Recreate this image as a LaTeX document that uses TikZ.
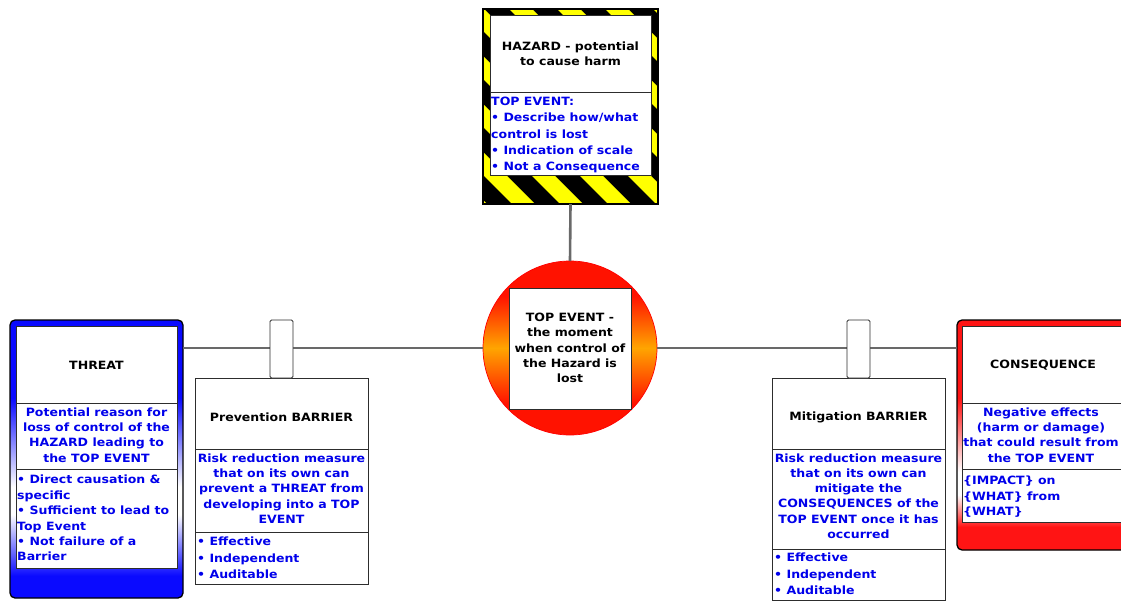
\documentclass[tikz,border=0pt]{standalone}
\usepackage{fontspec}
\setmainfont{DejaVu Sans}[FakeStretch=1.1]
\usetikzlibrary{calc}

\definecolor{tblue}{RGB}{0,0,235}
\definecolor{fillblue}{RGB}{10,10,255}
\definecolor{fillred}{RGB}{255,20,20}
\definecolor{discred}{RGB}{255,18,0}
\definecolor{discorange}{RGB}{255,165,0}
\definecolor{hzyellow}{RGB}{255,255,0}
\definecolor{lineg}{RGB}{105,105,105}
\definecolor{edgeg}{RGB}{45,45,45}

% vertical fades for the two side panels and the central disc
\pgfdeclareverticalshading{threatfade}{100bp}{color(0bp)=(fillblue); color(29bp)=(fillblue); color(40bp)=(white); color(45bp)=(white); color(61bp)=(fillblue); color(100bp)=(fillblue)}
\pgfdeclareverticalshading{consfade}{100bp}{color(0bp)=(fillred); color(30bp)=(fillred); color(37bp)=(white); color(42bp)=(white); color(58bp)=(fillred); color(100bp)=(fillred)}
\pgfdeclareverticalshading{discfade}{100bp}{color(0bp)=(discred); color(34bp)=(discred); color(50bp)=(discorange); color(65bp)=(discred); color(100bp)=(discred)}

\newcommand\boxfont{\bfseries\fontsize{11.4}{15.3}\selectfont}

\tikzset{
  conn/.style={draw=lineg, line width=2.6pt},
  panel/.style={draw=edgeg, line width=0.9pt, fill=white, inner sep=0pt, outer sep=0pt, anchor=north west},
  outerpanel/.style={draw=black, line width=1.3pt, rounded corners=5pt, inner sep=0pt, outer sep=0pt, anchor=north west},
  tabbox/.style={draw=edgeg, line width=0.9pt, fill=white, rounded corners=1.5pt, inner sep=0pt, outer sep=0pt, anchor=north west, minimum width=23pt, minimum height=58pt},
  divider/.style={draw=edgeg, line width=0.9pt},
  head/.style={font=\boxfont, text=black, align=center, inner sep=0pt},
  desc/.style={font=\boxfont, text=tblue, align=center, inner sep=0pt},
  blist/.style={font=\boxfont, text=tblue, align=left, inner sep=0pt, anchor=north west},
}

\begin{document}
\begin{tikzpicture}[x=1pt, y=-1pt]
\useasboundingbox (0,0) rectangle (1121,602);

% ---------- hazard sign with warning stripes ----------
\node[anchor=north west, minimum width=175pt, minimum height=195pt, inner sep=0pt, outer sep=0pt] (hazard) at (483,9) {};
\begin{scope}
  \clip (483,9) rectangle (658,204);
  \fill[black] (483,9) rectangle (658,204);
  \foreach \k in {-2,...,8} {
    \pgfmathsetmacro{\c}{308+48*\k}
    \fill[hzyellow] (\c,0) -- (\c+23,0) -- (\c+233,210) -- (\c+210,210) -- cycle;
  }
\end{scope}
\draw[black, line width=1.3pt] (hazard.north west) rectangle (hazard.south east);
\node[panel, minimum width=161pt, minimum height=160pt] (hzin) at (490,15) {};
\draw[divider] (hzin.west |- 0,92) -- (hzin.east |- 0,92);
\node[head] (hztitle) at (570.5,54) {HAZARD - potential\\to cause harm};
\node[blist, font=\bfseries\fontsize{11.4}{16.2}\selectfont] (hzlist) at (491,97) {TOP EVENT:\\• Describe how/what\\control is lost\\• Indication of scale\\• Not a Consequence};

% ---------- top event disc ----------
\node[circle, draw=red, line width=0.7pt, shading=discfade, minimum size=174pt, inner sep=0pt, outer sep=0pt] (top) at (570,348) {};
\node[panel, minimum width=122pt, minimum height=121pt] (topin) at (509,288) {};
\node[head] (toptext) at (570,348) {TOP EVENT -\\the moment\\when control of\\the Hazard is\\lost};

% ---------- threat ----------
\node[outerpanel, shading=threatfade, minimum width=173pt, minimum height=278pt] (threat) at (10,320) {};
\node[panel, minimum width=161pt, minimum height=242pt] (thin) at (16,326) {};
\draw[divider] (thin.west |- 0,403) -- (thin.east |- 0,403);
\draw[divider] (thin.west |- 0,469) -- (thin.east |- 0,469);
\node[head] (thtitle) at (96.5,365) {THREAT};
\node[desc] (thdesc) at (96.5,435) {Potential reason for\\loss of control of the\\HAZARD leading to\\the TOP EVENT};
\node[blist, font=\bfseries\fontsize{11.4}{15.4}\selectfont] (thlist) at (17,475) {• Direct causation \&\\specific\\• Sufficient to lead to\\Top Event\\• Not failure of a\\Barrier};

% ---------- consequence ----------
\node[outerpanel, shading=consfade, minimum width=173pt, minimum height=230pt] (cons) at (957,320) {};
\node[panel, minimum width=162pt, minimum height=196pt] (coin) at (962,326) {};
\draw[divider] (coin.west |- 0,403) -- (coin.east |- 0,403);
\draw[divider] (coin.west |- 0,469) -- (coin.east |- 0,469);
\node[head] (cotitle) at (1043,365) {CONSEQUENCE};
\node[desc] (codesc) at (1041,435) {Negative effects\\(harm or damage)\\that could result from\\the TOP EVENT};
\node[blist, font=\bfseries\fontsize{11.4}{15.5}\selectfont] (colist) at (963,476) {\{IMPACT\} on\\\{WHAT\} from\\\{WHAT\}};

% ---------- barrier boxes ----------
\node[panel, minimum width=173pt, minimum height=206pt] (prev) at (195,378) {};
\draw[divider] (prev.west |- 0,449) -- (prev.east |- 0,449);
\draw[divider] (prev.west |- 0,532) -- (prev.east |- 0,532);
\node[head] (prtitle) at (281.5,417) {Prevention BARRIER};
\node[desc] (prdesc) at (281.5,488.5) {Risk reduction measure\\that on its own can\\prevent a THREAT from\\developing into a TOP\\EVENT};
\node[blist, font=\bfseries\fontsize{11.4}{16.5}\selectfont] (prlist) at (197,537) {• Effective\\• Independent\\• Auditable};

\node[panel, minimum width=173pt, minimum height=222pt] (miti) at (772,378) {};
\draw[divider] (miti.west |- 0,449) -- (miti.east |- 0,449);
\draw[divider] (miti.west |- 0,549) -- (miti.east |- 0,549);
\node[head] (mititle) at (858.5,417) {Mitigation BARRIER};
\node[desc] (midesc) at (858.5,496) {Risk reduction measure\\that on its own can\\mitigate the\\CONSEQUENCES of the\\TOP EVENT once it has\\occurred};
\node[blist, font=\bfseries\fontsize{11.4}{16.5}\selectfont] (milist) at (774,553) {• Effective\\• Independent\\• Auditable};

% ---------- connectors ----------
\draw[conn] (hazard.south) -- (top.north);
\draw[conn] (threat.east |- top.west) -- (top.west);
\draw[conn] (top.east) -- (cons.west |- top.east);

% ---------- barrier tabs sitting on the line ----------
\node[tabbox] (prtab) at (270,320) {};
\node[tabbox] (mitab) at (847,320) {};
\end{tikzpicture}
\end{document}
